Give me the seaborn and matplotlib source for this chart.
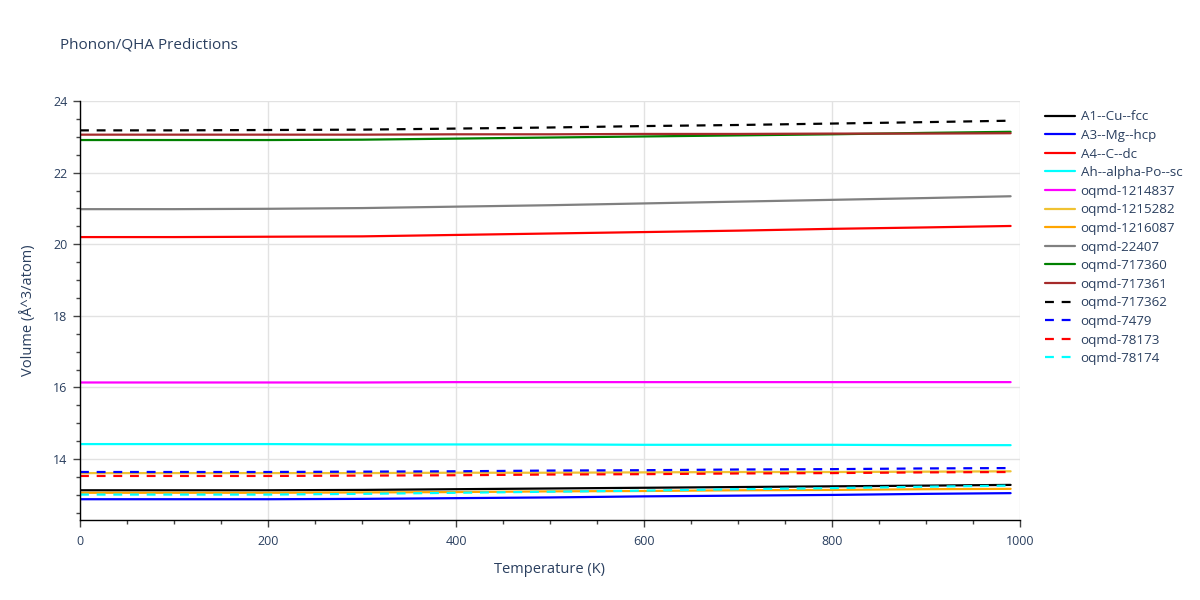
import pandas as pd
import matplotlib
matplotlib.use("Agg")
import matplotlib.pyplot as plt
import seaborn as sns
from matplotlib.ticker import MultipleLocator

# temperature grid (K)
temps = [0, 100, 200, 300, 400, 500, 600, 700, 800, 900, 990]

# volumes (Å^3/atom)
a1_cu_fcc = [13.13, 13.13, 13.13, 13.14, 13.16, 13.18, 13.20, 13.22, 13.24, 13.26, 13.28]
a3_mg_hcp = [12.88, 12.88, 12.88, 12.89, 12.91, 12.93, 12.96, 12.98, 13.00, 13.03, 13.05]
a4_c_dc = [20.20, 20.20, 20.21, 20.22, 20.26, 20.30, 20.34, 20.38, 20.43, 20.47, 20.51]
ah_alpha_po_sc = [14.42, 14.42, 14.42, 14.41, 14.41, 14.41, 14.40, 14.40, 14.40, 14.39, 14.39]
oqmd_1214837 = [16.14, 16.14, 16.14, 16.14, 16.15, 16.15, 16.15, 16.15, 16.15, 16.15, 16.15]
oqmd_1215282 = [13.61, 13.61, 13.61, 13.61, 13.62, 13.62, 13.63, 13.64, 13.64, 13.65, 13.66]
oqmd_1216087 = [13.06, 13.06, 13.06, 13.07, 13.08, 13.10, 13.11, 13.13, 13.14, 13.16, 13.17]
oqmd_22407 = [20.98, 20.98, 20.99, 21.01, 21.05, 21.09, 21.14, 21.19, 21.24, 21.29, 21.34]
oqmd_717360 = [22.91, 22.91, 22.91, 22.92, 22.95, 22.98, 23.01, 23.04, 23.07, 23.11, 23.14]
oqmd_717361 = [23.06, 23.06, 23.06, 23.06, 23.07, 23.07, 23.08, 23.08, 23.09, 23.09, 23.10]
oqmd_717362 = [23.18, 23.18, 23.19, 23.20, 23.23, 23.26, 23.30, 23.33, 23.37, 23.41, 23.45]
oqmd_7479 = [13.64, 13.64, 13.64, 13.65, 13.66, 13.68, 13.69, 13.71, 13.72, 13.74, 13.75]
oqmd_78173 = [13.53, 13.53, 13.53, 13.54, 13.55, 13.57, 13.58, 13.60, 13.61, 13.63, 13.64]
oqmd_78174 = [13.01, 13.01, 13.01, 13.03, 13.06, 13.09, 13.12, 13.16, 13.19, 13.23, 13.26]

series = [
    ("A1--Cu--fcc", a1_cu_fcc, "black", False),
    ("A3--Mg--hcp", a3_mg_hcp, "blue", False),
    ("A4--C--dc", a4_c_dc, "red", False),
    ("Ah--alpha-Po--sc", ah_alpha_po_sc, "cyan", False),
    ("oqmd-1214837", oqmd_1214837, "magenta", False),
    ("oqmd-1215282", oqmd_1215282, "#f0c232", False),
    ("oqmd-1216087", oqmd_1216087, "orange", False),
    ("oqmd-22407", oqmd_22407, "gray", False),
    ("oqmd-717360", oqmd_717360, "green", False),
    ("oqmd-717361", oqmd_717361, "brown", False),
    ("oqmd-717362", oqmd_717362, "black", True),
    ("oqmd-7479", oqmd_7479, "blue", True),
    ("oqmd-78173", oqmd_78173, "red", True),
    ("oqmd-78174", oqmd_78174, "cyan", True),
]

sns.set_style("white")
plt.rcParams['font.family'] = ['Open Sans', 'DejaVu Sans']
text_col = "#2a3f5f"

fig = plt.figure(figsize=(12, 6), dpi=100)
ax = fig.add_axes([80 / 1200, 1 - 520 / 600, 940 / 1200, 419 / 600])

for name, vals, col, dashed in series:
    df = pd.DataFrame({"T": temps, "V": vals})
    sns.lineplot(data=df, x="T", y="V", color=col, linewidth=1.6,
                 label=name, ax=ax)
    if dashed:
        ax.lines[-1].set_dashes((4, 3.5))

ax.set_xlim(0, 1000)
ax.set_ylim(12.3, 24.0)
ax.xaxis.set_major_locator(MultipleLocator(200))
ax.xaxis.set_minor_locator(MultipleLocator(50))
ax.yaxis.set_major_locator(MultipleLocator(2))
ax.yaxis.set_minor_locator(MultipleLocator(0.5))
ax.grid(True, which="major", color="#e2e2e2", linewidth=1)
ax.tick_params(axis="both", which="major", length=5, width=1, color="#444444",
               labelsize=9, labelcolor=text_col, direction="out")
ax.tick_params(axis="both", which="minor", length=3, width=1, color="#444444",
               direction="out")
ax.tick_params(axis="x", pad=6)
ax.tick_params(axis="y", pad=4)
ax.xaxis.set_ticks_position("bottom")
ax.yaxis.set_ticks_position("left")
for side in ["top", "right"]:
    ax.spines[side].set_visible(False)
for side in ["left", "bottom"]:
    ax.spines[side].set_color("black")
    ax.spines[side].set_linewidth(1)

ax.set_xlabel("Temperature (K)", fontsize=10.5, color=text_col, labelpad=10)
ax.set_ylabel("Volume (Å^3/atom)", fontsize=10.5, color=text_col, labelpad=12)
fig.text(60 / 1200, 1 - 45 / 600, "Phonon/QHA Predictions", fontsize=11,
         color=text_col, va="center", ha="left")

ax.legend(loc="upper left", bbox_to_anchor=(1.017, 1.0), frameon=False,
          fontsize=9.6, labelcolor=text_col, handlelength=2.25, handletextpad=0.4,
          labelspacing=0.42, borderaxespad=0.3)

plt.savefig("out.png", dpi=100)
